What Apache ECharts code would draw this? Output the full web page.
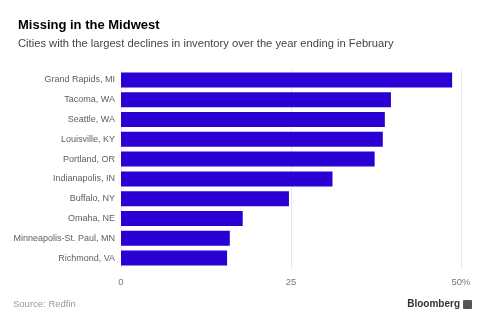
<!DOCTYPE html>
<html>
<head>
<meta charset="utf-8">
<script src="https://cdn.jsdelivr.net/npm/echarts@6/dist/echarts.min.js"></script>
<style>
html,body{margin:0;padding:0;background:#fff;}
#chart{width:488px;height:325px;}
</style>
</head>
<body>
<div id="chart"></div>
<script>
const categories = ["Grand Rapids, MI","Tacoma, WA","Seattle, WA","Louisville, KY","Portland, OR","Indianapolis, IN","Buffalo, NY","Omaha, NE","Minneapolis-St. Paul, MN","Richmond, VA"];
const declines = [48.7, 39.7, 38.8, 38.5, 37.3, 31.1, 24.7, 17.9, 16.0, 15.6];
const xTicks = {0: "0", 25: "25", 50: "50%"};

const FONT = "'Liberation Sans', Arial, sans-serif";
const chart = echarts.init(document.getElementById('chart'), null, {renderer: 'canvas'});
chart.setOption({
  animation: false,
  backgroundColor: '#ffffff',
  textStyle: {fontFamily: FONT},
  title: [
    {text: 'Missing in the Midwest', left: 13, top: 14,
     textStyle: {fontFamily: FONT, fontSize: 13, fontWeight: 'bold', color: '#000'}},
    {text: 'Cities with the largest declines in inventory over the year ending in February', left: 13, top: 33,
     textStyle: {fontFamily: FONT, fontSize: 11.2, fontWeight: 'normal', color: '#444'}}
  ],
  grid: {left: 121, right: 27, top: 70, bottom: 57, containLabel: false},
  xAxis: {
    type: 'value', min: 0, max: 50, interval: 25,
    axisLine: {show: false}, axisTick: {show: false},
    splitLine: {show: true, lineStyle: {color: '#e8e8e8', width: 1}},
    axisLabel: {color: '#777', fontSize: 9.5, margin: 9, fontFamily: FONT,
      formatter: v => xTicks[v] !== undefined ? xTicks[v] : ''}
  },
  yAxis: {
    type: 'category', data: categories, inverse: true,
    axisLine: {show: false}, axisTick: {show: false},
    axisLabel: {color: '#606060', fontSize: 9, margin: 6, fontFamily: FONT}
  },
  series: [{
    type: 'bar', data: declines, barWidth: 15,
    itemStyle: {color: '#2a00d5'}
  }],
  graphic: [
    {type: 'text', left: 13, top: 299,
     style: {text: 'Source: Redfin', font: '9.5px ' + FONT, fill: '#999'}},
    {type: 'text', right: 28, top: 299,
     style: {text: 'Bloomberg', font: 'bold 10px ' + FONT, fill: '#333'}},
    {type: 'rect', right: 16, top: 300, shape: {width: 9, height: 9, r: 1},
     style: {fill: '#555'}}
  ]
});
</script>
</body>
</html>
